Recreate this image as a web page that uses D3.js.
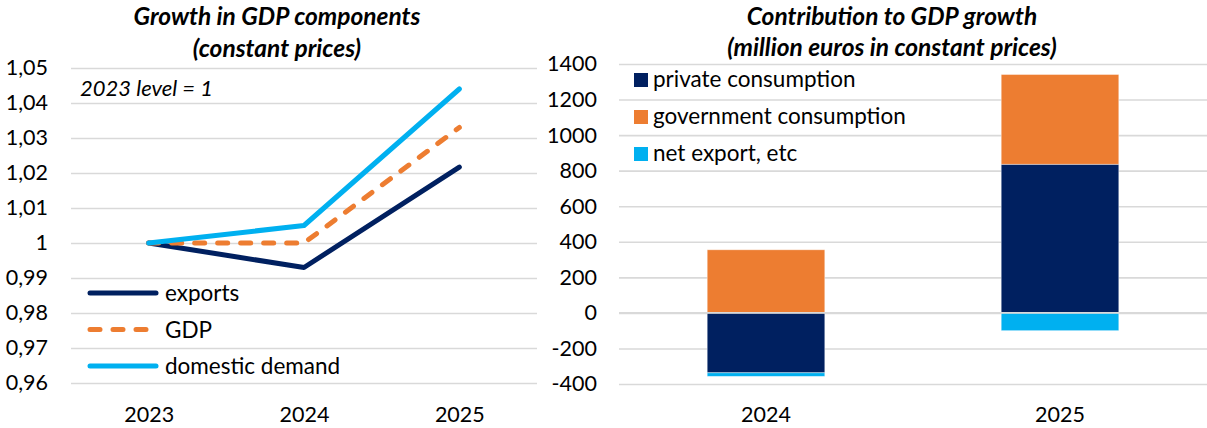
<!DOCTYPE html>
<html>
<head>
<meta charset="utf-8">
<script src="https://d3js.org/d3.v7.min.js"></script>
<style>
  body { margin: 0; background: #fff; }
  svg text { font-family: Lato, "Open Sans", sans-serif; fill: #000; }
  .title { font-weight: bold; font-style: italic; font-size: 24.5px; text-anchor: middle; }
  .axis text { font-size: 21.5px; }
  .axis .domain { display: none; }
  .axis line { stroke: #d9d9d9; stroke-width: 1.6px; }
  .leg { font-size: 22.5px; }
</style>
</head>
<body>
<div id="chart"></div>
<script>
// left chart data
var years = ["2023", "2024", "2025"];
var exportsVals = [1, 0.993, 1.0217];
var gdpVals = [1, 1.000, 1.033];
var domesticVals = [1, 1.005, 1.044];
var leftTicks = [0.96, 0.97, 0.98, 0.99, 1, 1.01, 1.02, 1.03, 1.04, 1.05];

// right chart data
var barYears = ["2024", "2025"];
var privateCons = [-337, 836];
var govCons = [355, 505];
var netExport = [-20, -100];
var rightTicks = [-400, -200, 0, 200, 400, 600, 800, 1000, 1200, 1400];

var svg = d3.select("#chart").append("svg")
    .attr("width", 1207)
    .attr("height", 428);

var fmt = d3.formatLocale({decimal: ",", thousands: " ", grouping: [3], currency: ["", ""], minus: "-"});
var fmtLeft = function(d) { return fmt.format("~r")(+d.toFixed(2)); };

// ---------- left chart ----------
var xL = d3.scalePoint().domain(years).range([71, 537]).padding(0.5);
var yL = d3.scaleLinear().domain([0.96, 1.05]).range([383, 68]);

svg.append("g")
    .attr("class", "axis")
    .attr("transform", "translate(71,0)")
    .call(d3.axisLeft(yL).tickValues(leftTicks).tickSize(-(537 - 71)).tickPadding(23).tickFormat(fmtLeft));

svg.append("g")
    .attr("class", "axis")
    .attr("transform", "translate(0,422)")
    .call(d3.axisBottom(xL).tickSize(0).tickPadding(0))
    .selectAll("text").attr("dy", 0);

svg.append("text").attr("class", "title").attr("x", 277).attr("y", 25).text("Growth in GDP components");
svg.append("text").attr("class", "title").attr("x", 277).attr("y", 57).text("(constant prices)");
svg.append("text").attr("x", 80).attr("y", 96).style("font-size", "22px").style("font-style", "italic").text("2023 level = 1");

var series = [
    {name: "exports", vals: exportsVals, color: "#002060", dash: null},
    {name: "GDP", vals: gdpVals, color: "#ED7D31", dash: "10,13"},
    {name: "domestic demand", vals: domesticVals, color: "#00B0F0", dash: null}
];

var line = d3.line()
    .x(function(d, i) { return xL(years[i]); })
    .y(function(d) { return yL(d); });

// draw exports first, then GDP, domestic demand on top
series.forEach(function(s) {
    svg.append("path")
        .attr("d", line(s.vals))
        .attr("fill", "none")
        .attr("stroke", s.color)
        .attr("stroke-width", 5)
        .attr("stroke-linejoin", "round")
        .attr("stroke-linecap", "round")
        .attr("stroke-dasharray", s.dash);
});

series.forEach(function(s, i) {
    var ly = 293 + i * 36.5;
    svg.append("line")
        .attr("x1", 90).attr("x2", 156)
        .attr("y1", ly).attr("y2", ly)
        .attr("stroke", s.color)
        .attr("stroke-width", 5)
        .attr("stroke-linecap", "round")
        .attr("stroke-dasharray", s.dash);
    svg.append("text").attr("class", "leg").attr("x", 165).attr("y", ly + 8).text(s.name);
});

// ---------- right chart ----------
var xR = d3.scaleBand().domain(barYears).range([619, 1207]);
var yR = d3.scaleLinear().domain([-400, 1400]).range([384, 64]);

svg.append("g")
    .attr("class", "axis")
    .attr("transform", "translate(619,0)")
    .call(d3.axisLeft(yR).tickValues(rightTicks).tickSize(-(1207 - 619)).tickPadding(22).tickFormat(fmt.format("d")));

svg.append("g")
    .attr("class", "axis")
    .attr("transform", "translate(0,422)")
    .call(d3.axisBottom(xR).tickSize(0).tickPadding(0))
    .selectAll("text").attr("dy", 0);

svg.append("text").attr("class", "title").attr("x", 892).attr("y", 25).text("Contribution to GDP growth");
svg.append("text").attr("class", "title").attr("x", 892).attr("y", 56).text("(million euros in constant prices)");

var keys = ["private", "gov", "net"];
var colors = {private: "#002060", gov: "#ED7D31", net: "#00B0F0"};
var labels = {private: "private consumption", gov: "government consumption", net: "net export, etc"};

var table = barYears.map(function(y, i) {
    return {year: y, private: privateCons[i], gov: govCons[i], net: netExport[i]};
});

var stacked = d3.stack().keys(keys).offset(d3.stackOffsetDiverging)(table);
var barW = xR.bandwidth() * 0.4;

stacked.forEach(function(layer) {
    svg.append("g").selectAll("rect")
        .data(layer)
        .enter().append("rect")
        .attr("x", function(d) { return xR(d.data.year) + (xR.bandwidth() - barW) / 2; })
        .attr("width", barW)
        .attr("y", function(d) { return yR(Math.max(d[0], d[1])); })
        .attr("height", function(d) { return Math.abs(yR(d[0]) - yR(d[1])); })
        .attr("fill", colors[layer.key])
        .attr("stroke", "#ffffff")
        .attr("stroke-opacity", 0.5)
        .attr("stroke-width", 0.8);
});

// zero line over bars
svg.append("line")
    .attr("x1", 619).attr("x2", 1207)
    .attr("y1", yR(0)).attr("y2", yR(0))
    .attr("stroke", "#d9d9d9").attr("stroke-width", 1.6);

keys.forEach(function(k, i) {
    var ly = 73 + i * 37;
    svg.append("rect").attr("x", 634).attr("y", ly).attr("width", 14).attr("height", 14).attr("fill", colors[k]);
    svg.append("text").attr("class", "leg").attr("x", 653).attr("y", ly + 14).text(labels[k]);
});
</script>
</body>
</html>
